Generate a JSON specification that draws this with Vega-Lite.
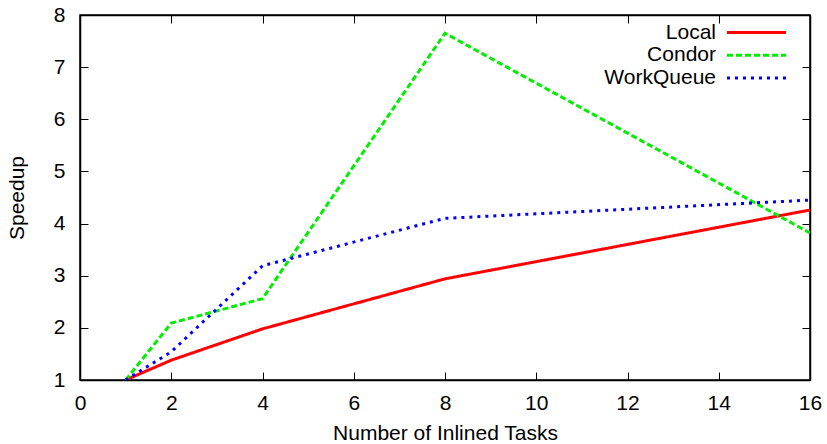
{
  "$schema": "https://vega.github.io/schema/vega-lite/v6.json",
  "width": 730,
  "height": 365,
  "autosize": {"type": "none"},
  "padding": {"left": 80, "top": 15, "right": 17, "bottom": 64},
  "background": "white",
  "config": {
    "font": "Liberation Sans",
    "view": {"stroke": "black", "strokeWidth": 1.5},
    "axis": {
      "grid": false,
      "domainColor": "black",
      "domainWidth": 1.5,
      "tickColor": "black",
      "tickWidth": 1,
      "tickSize": -8,
      "labelFont": "Liberation Sans",
      "labelFontSize": 21,
      "labelColor": "black",
      "titleFont": "Liberation Sans",
      "titleFontSize": 21,
      "titleFontWeight": "normal",
      "titleColor": "black"
    }
  },
  "data": {
    "values": [
      {"tasks": 1, "speedup": 1.0, "series": "Local"},
      {"tasks": 2, "speedup": 1.38, "series": "Local"},
      {"tasks": 4, "speedup": 1.98, "series": "Local"},
      {"tasks": 8, "speedup": 2.94, "series": "Local"},
      {"tasks": 16, "speedup": 4.26, "series": "Local"},
      {"tasks": 1, "speedup": 1.0, "series": "Condor"},
      {"tasks": 2, "speedup": 2.09, "series": "Condor"},
      {"tasks": 4, "speedup": 2.56, "series": "Condor"},
      {"tasks": 8, "speedup": 7.65, "series": "Condor"},
      {"tasks": 16, "speedup": 3.82, "series": "Condor"},
      {"tasks": 1, "speedup": 1.0, "series": "WorkQueue"},
      {"tasks": 2, "speedup": 1.54, "series": "WorkQueue"},
      {"tasks": 4, "speedup": 3.19, "series": "WorkQueue"},
      {"tasks": 8, "speedup": 4.1, "series": "WorkQueue"},
      {"tasks": 16, "speedup": 4.45, "series": "WorkQueue"}
    ]
  },
  "layer": [
    {
      "mark": {"type": "line", "strokeWidth": 3, "clip": true},
      "encoding": {
        "x": {
          "field": "tasks", "type": "quantitative",
          "scale": {"domain": [0, 16], "nice": false, "zero": false},
          "axis": {"title": "Number of Inlined Tasks", "values": [0, 2, 4, 6, 8, 10, 12, 14, 16], "labelPadding": 20, "titlePadding": 9, "labelFlush": false}
        },
        "y": {
          "field": "speedup", "type": "quantitative",
          "scale": {"domain": [1, 8], "nice": false, "zero": false},
          "axis": {"title": "Speedup", "values": [1, 2, 3, 4, 5, 6, 7, 8], "labelPadding": 23, "titlePadding": 26, "labelFlush": false}
        },
        "color": {
          "field": "series", "type": "nominal",
          "scale": {"domain": ["Local", "Condor", "WorkQueue"], "range": ["#ff0000", "#00ee00", "#0000ff"]},
          "legend": {
            "orient": "none", "legendX": 666, "legendY": 7, "title": null,
            "padding": 0, "symbolType": "M-5.9,0H5.9", "symbolSize": 100, "symbolStrokeWidth": 3,
            "labelAlign": "right", "labelOffset": -51, "labelFontSize": 21, "labelFont": "Liberation Sans",
            "labelColor": "black", "rowPadding": 0.8, "labelLimit": 300
          }
        },
        "strokeDash": {
          "field": "series", "type": "nominal",
          "scale": {"domain": ["Local", "Condor", "WorkQueue"], "range": [[1, 0], [6, 3], [3, 5]]}
        }
      }
    },
    {
      "mark": {"type": "point", "opacity": 0},
      "encoding": {
        "x": {
          "field": "tasks", "type": "quantitative",
          "scale": {"domain": [0, 16], "nice": false, "zero": false},
          "axis": {"orient": "top", "title": null, "labels": false, "values": [0, 2, 4, 6, 8, 10, 12, 14, 16]}
        },
        "y": {
          "field": "speedup", "type": "quantitative",
          "scale": {"domain": [1, 8], "nice": false, "zero": false},
          "axis": {"orient": "right", "title": null, "labels": false, "values": [1, 2, 3, 4, 5, 6, 7, 8]}
        }
      }
    }
  ],
  "resolve": {"axis": {"x": "independent", "y": "independent"}}
}
